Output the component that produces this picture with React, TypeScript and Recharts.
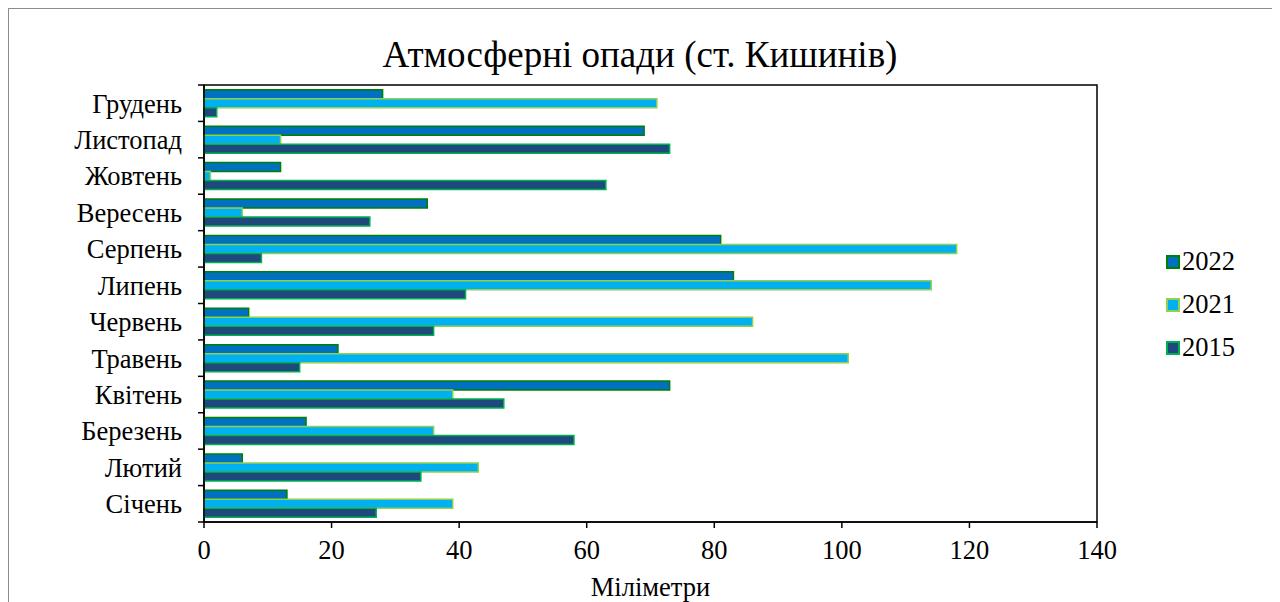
import React from 'react';
import {
  BarChart,
  Bar,
  XAxis,
  YAxis,
  ReferenceArea
} from 'recharts';

const months = [
  'Січень', 'Лютий', 'Березень', 'Квітень', 'Травень', 'Червень',
  'Липень', 'Серпень', 'Вересень', 'Жовтень', 'Листопад', 'Грудень'
];

const rain2022 = [13, 6, 16, 73, 21, 7, 83, 81, 35, 12, 69, 28];
const rain2021 = [39, 43, 36, 39, 101, 86, 114, 118, 6, 1, 12, 71];
const rain2015 = [27, 34, 58, 47, 15, 36, 41, 9, 26, 63, 73, 2];

const xTicks = [0, 20, 40, 60, 80, 100, 120, 140];

const series = [
  { key: 'y2022', name: '2022', fill: '#0070C0', stroke: '#008000' },
  { key: 'y2021', name: '2021', fill: '#00B0F0', stroke: '#92D050' },
  { key: 'y2015', name: '2015', fill: '#1F497D', stroke: '#00B050' }
];

const data = months.map((m, i) => ({
  month: m,
  y2022: rain2022[i],
  y2021: rain2021[i],
  y2015: rain2015[i]
}));

const font = '"Liberation Serif", "Times New Roman", serif';
const textSize = 26.5;

// month label plus the small tick marks Excel puts between categories
const MonthTick = (props: any) => {
  const { x, y, payload, index } = props;
  const half = payload && payload.offset ? payload.offset : 0;
  const ax = x + 22;
  return (
    <g>
      <text
        x={x}
        y={y}
        dy="0.355em"
        textAnchor="end"
        fill="#000"
        fontSize={textSize}
        fontFamily={font}
      >
        {payload.value}
      </text>
      {half > 0 && (
        <line x1={ax - 6} x2={ax} y1={y - half} y2={y - half} stroke="#000" strokeWidth={1.5} />
      )}
      {half > 0 && index === 0 && (
        <line x1={ax - 6} x2={ax} y1={y + half} y2={y + half} stroke="#000" strokeWidth={1.5} />
      )}
    </g>
  );
};

const App: React.FC = () => {
  return (
    <div
      style={{
        position: 'relative',
        width: 1264,
        height: 620,
        border: '1px solid #8c8c8c',
        fontFamily: font,
        background: '#fff'
      }}
    >
      <div
        style={{
          position: 'absolute',
          top: 24,
          left: 0,
          width: 1262,
          textAlign: 'center',
          fontSize: 37,
          lineHeight: '44px',
          color: '#000'
        }}
      >
        Атмосферні опади (ст. Кишинів)
      </div>

      <BarChart
        width={1262}
        height={610}
        data={data}
        layout="vertical"
        margin={{ top: 76, right: 174, left: 15, bottom: 17 }}
        barCategoryGap="13%"
        barGap={0}
        style={{ fontFamily: font }}
      >
        <XAxis
          type="number"
          domain={[0, 140]}
          ticks={xTicks}
          height={80}
          stroke="#000"
          tick={{ fill: '#000', fontSize: textSize, fontFamily: font }}
          tickSize={6}
          tickMargin={12}
          axisLine={{ stroke: '#000', strokeWidth: 1.5 }}
          tickLine={{ stroke: '#000', strokeWidth: 1.5 }}
          label={{
            value: 'Міліметри',
            position: 'insideBottom',
            offset: 6,
            fill: '#000',
            fontSize: textSize,
            fontFamily: font
          }}
        />
        <YAxis
          yAxisId="cat"
          type="category"
          dataKey="month"
          reversed
          width={180}
          tickSize={6}
          tickMargin={16}
          tickLine={false}
          axisLine={{ stroke: '#000', strokeWidth: 1.5 }}
          tick={<MonthTick />}
        />
        <ReferenceArea
          yAxisId="cat"
          x1={0}
          x2={140}
          fill="none"
          stroke="#000"
          strokeWidth={1.5}
        />
        {series.map((s) => (
          <Bar
            key={s.key}
            yAxisId="cat"
            dataKey={s.key}
            name={s.name}
            fill={s.fill}
            stroke={s.stroke}
            strokeWidth={1.5}
            isAnimationActive={false}
          />
        ))}
      </BarChart>

      <div style={{ position: 'absolute', left: 1157, top: 231 }}>
        {series.map((s) => (
          <div
            key={s.key}
            style={{
              display: 'flex',
              alignItems: 'center',
              height: 43,
              fontSize: textSize,
              color: '#000'
            }}
          >
            <span
              style={{
                display: 'inline-block',
                width: 10,
                height: 10,
                background: s.fill,
                border: `2px solid ${s.stroke}`,
                marginRight: 2
              }}
            />
            {s.name}
          </div>
        ))}
      </div>
    </div>
  );
};

export default App;
